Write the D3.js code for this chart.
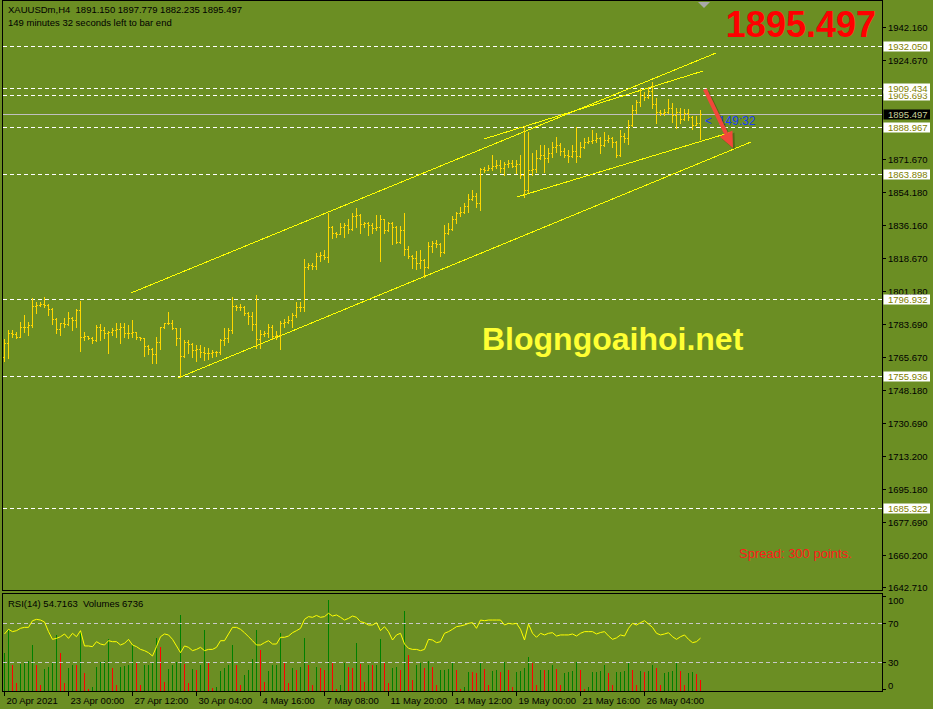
<!DOCTYPE html>
<html>
<head>
<meta charset="utf-8">
<title>XAUUSDm,H4</title>
<script src="https://cdn.jsdelivr.net/npm/d3@7"></script>
<style>
  body { margin: 0; background: #6b8e23; }
  svg text { font-family: "Liberation Sans", Arial, sans-serif; white-space: pre; }
</style>
</head>
<body>
<div id="chart"></div>
<script>
// H4 bars, 20 Apr 2021 08:00 -> 28 May 2021 12:00
const opens = [
 1766.0,1773.5,1778.5,1778.2,1776.7,1781.7,1782.0,1783.0,1793.1,1793.6,
 1794.2,1793.5,1791.3,1786.0,1780.7,1783.9,1783.3,1786.5,1785.6,1791.0,
 1776.4,1776.8,1776.2,1775.0,1782.1,1780.3,1778.9,1779.4,1780.3,1780.6,
 1782.1,1778.5,1778.9,1779.4,1776.7,1775.9,1771.8,1770.0,1767.5,1774.1,
 1781.7,1783.9,1784.2,1781.2,1775.9,1766.4,1774.1,1772.8,1769.6,1770.2,
 1768.7,1768.2,1767.8,1768.7,1768.4,1775.0,1775.9,1780.3,1793.1,1792.8,
 1792.5,1789.6,1787.5,1783.5,1775.3,1778.2,1778.5,1782.1,1777.1,1777.6,
 1784.2,1784.6,1785.6,1788.3,1792.4,1792.8,1813.8,1815.0,1814.5,1819.9,
 1820.3,1819.5,1835.2,1831.9,1831.6,1835.5,1836.4,1834.1,1841.2,1841.7,
 1836.9,1837.3,1836.4,1834.6,1835.5,1839.4,1833.7,1837.3,1835.5,1827.5,
 1833.7,1823.4,1819.9,1818.6,1816.3,1817.7,1814.1,1825.2,1826.6,1826.2,
 1822.2,1831.9,1834.1,1839.4,1842.6,1843.5,1846.5,1850.1,1852.0,1848.0,
 1866.5,1866.0,1867.0,1868.0,1868.3,1867.0,1869.0,1869.3,1868.0,1869.0,
 1863.0,1855.0,1866.0,1866.5,1872.0,1874.0,1872.0,1875.0,1878.0,1879.0,
 1876.0,1874.0,1873.0,1876.0,1873.0,1878.0,1881.0,1881.5,1882.0,1883.0,
 1879.0,1882.0,1883.0,1881.0,1874.0,1884.0,1883.0,1890.0,1898.0,1902.0,
 1906.0,1905.0,1908.0,1901.0,1897.0,1896.0,1897.0,1899.0,1895.0,1897.0,
 1893.0,1896.0,1894.0,1890.0,1891.15
];
const highs = [
 1775.3,1780.3,1780.3,1779.4,1784.7,1788.3,1784.7,1797.2,1795.4,1795.4,
 1797.7,1794.2,1791.9,1786.5,1784.2,1786.5,1789.7,1787.4,1791.3,1796.0,
 1779.4,1777.1,1776.7,1783.0,1783.5,1782.1,1779.9,1781.2,1783.9,1784.2,
 1783.9,1783.0,1785.6,1779.4,1776.7,1776.0,1772.3,1770.5,1776.4,1782.1,
 1784.2,1789.9,1785.6,1781.6,1781.2,1775.0,1775.0,1773.2,1772.3,1772.3,
 1771.4,1770.5,1769.6,1769.1,1775.3,1781.2,1781.2,1797.7,1793.7,1794.2,
 1793.1,1790.1,1790.1,1799.0,1780.3,1779.9,1783.5,1783.0,1779.9,1785.3,
 1786.0,1787.8,1789.6,1795.4,1795.4,1818.0,1816.3,1816.3,1821.6,1822.2,
 1823.1,1843.0,1835.9,1832.9,1837.3,1837.3,1839.4,1842.6,1845.3,1842.0,
 1838.2,1838.2,1837.6,1841.7,1841.7,1839.8,1838.2,1837.8,1836.0,1835.9,
 1843.0,1825.2,1820.4,1822.7,1823.1,1818.1,1827.5,1828.0,1828.4,1826.6,
 1836.4,1837.6,1841.2,1843.5,1845.8,1848.0,1853.0,1855.1,1853.4,1866.7,
 1867.6,1868.5,1873.8,1871.2,1871.2,1870.3,1871.2,1871.2,1871.2,1873.8,
 1889.3,1886.0,1874.7,1876.5,1879.2,1879.2,1877.4,1880.9,1883.6,1880.0,
 1877.4,1876.5,1879.2,1889.0,1880.9,1882.7,1883.6,1887.2,1885.8,1883.6,
 1886.3,1884.5,1883.6,1881.5,1887.2,1885.4,1892.5,1900.5,1903.2,1909.4,
 1907.7,1910.3,1913.0,1904.1,1897.9,1898.2,1903.6,1901.4,1898.7,1898.7,
 1898.2,1898.2,1894.7,1894.7,1897.779
];
const lows = [
 1763.7,1765.5,1776.7,1775.9,1776.4,1779.4,1777.6,1782.1,1789.2,1793.1,
 1792.8,1788.3,1783.3,1778.5,1777.6,1782.1,1783.0,1780.3,1782.1,1769.3,
 1775.0,1775.3,1773.5,1774.6,1775.0,1775.9,1768.2,1777.6,1776.7,1773.2,
 1776.4,1775.9,1776.7,1775.3,1775.0,1766.4,1767.5,1762.9,1762.9,1770.0,
 1781.5,1783.5,1780.8,1772.3,1755.4,1766.0,1768.2,1765.7,1763.9,1765.7,
 1764.3,1764.6,1766.1,1766.4,1767.5,1772.3,1774.1,1778.5,1791.0,1790.7,
 1788.4,1783.5,1780.3,1770.5,1770.5,1777.1,1776.4,1775.3,1775.3,1770.0,
 1782.1,1784.2,1781.7,1787.4,1790.6,1790.6,1812.7,1812.7,1812.7,1817.4,
 1818.1,1816.8,1829.3,1829.8,1831.6,1829.8,1831.9,1833.7,1835.5,1832.3,
 1835.5,1831.1,1832.0,1833.7,1817.4,1832.3,1833.2,1826.3,1826.6,1826.9,
 1820.4,1818.6,1813.3,1812.7,1813.3,1808.4,1813.6,1822.2,1824.8,1819.9,
 1821.6,1831.6,1833.6,1837.6,1841.2,1843.0,1843.5,1849.5,1846.2,1844.5,
 1864.9,1865.8,1865.8,1866.7,1864.9,1863.2,1867.6,1867.6,1864.0,1861.4,
 1851.6,1854.0,1863.2,1864.9,1871.5,1864.9,1870.3,1872.9,1875.6,1873.8,
 1872.9,1870.3,1872.9,1870.3,1872.5,1877.5,1880.0,1880.4,1880.9,1875.1,
 1878.5,1880.9,1877.9,1872.6,1873.5,1880.9,1879.7,1889.5,1896.4,1900.0,
 1903.2,1904.1,1898.7,1890.7,1895.2,1895.2,1896.1,1891.6,1888.1,1890.7,
 1892.5,1892.5,1887.5,1889.8,1882.235
];
const closes = [
 1773.5,1778.5,1778.2,1776.7,1781.7,1782.0,1783.0,1793.1,1793.6,1794.2,
 1793.5,1791.3,1786.0,1780.7,1783.9,1783.3,1786.5,1785.6,1791.0,1776.4,
 1776.8,1776.2,1775.0,1782.1,1780.3,1778.9,1779.4,1780.3,1780.6,1782.1,
 1778.5,1778.9,1779.4,1776.7,1775.9,1771.8,1770.0,1767.5,1774.1,1781.7,
 1783.9,1784.2,1781.2,1775.9,1766.4,1774.1,1772.8,1769.6,1770.2,1768.7,
 1768.2,1767.8,1768.7,1768.4,1775.0,1775.9,1780.3,1793.1,1792.8,1792.5,
 1789.6,1787.5,1783.5,1775.3,1778.2,1778.5,1782.1,1777.1,1777.6,1784.2,
 1784.6,1785.6,1788.3,1792.4,1792.8,1813.8,1815.0,1814.5,1819.9,1820.3,
 1819.5,1835.2,1831.9,1831.6,1835.5,1836.4,1834.1,1841.2,1841.7,1836.9,
 1837.3,1836.4,1834.6,1835.5,1839.4,1833.7,1837.3,1835.5,1827.5,1833.7,
 1823.4,1819.9,1818.6,1816.3,1817.7,1814.1,1825.2,1826.6,1826.2,1822.2,
 1831.9,1834.1,1839.4,1842.6,1843.5,1846.5,1850.1,1852.0,1848.0,1866.5,
 1866.0,1867.0,1868.0,1868.3,1867.0,1869.0,1869.3,1868.0,1869.0,1863.0,
 1855.0,1866.0,1866.5,1872.0,1874.0,1872.0,1875.0,1878.0,1879.0,1876.0,
 1874.0,1873.0,1876.0,1873.0,1878.0,1881.0,1881.5,1882.0,1883.0,1879.0,
 1882.0,1883.0,1881.0,1874.0,1884.0,1883.0,1890.0,1898.0,1902.0,1906.0,
 1905.0,1908.0,1901.0,1897.0,1896.0,1897.0,1899.0,1895.0,1897.0,1893.0,
 1896.0,1894.0,1890.0,1891.15,1895.497
];
const volumes = [
 22080,35520,14980,4800,15940,16900,17470,27070,15550,4030,
 13060,14400,16900,32830,22080,4800,13630,15550,14980,34370,
 10560,1340,2880,14400,16900,17470,30340,13630,4030,14400,
 14780,15550,27070,16320,4030,14980,15550,16900,30910,25920,
 5380,13060,14980,16900,43780,15940,4800,13060,12100,15550,
 35520,16900,1920,2880,11710,13630,15550,27070,14980,4030,
 9790,12480,18820,35520,24000,5380,11710,14980,15550,33600,
 16320,4800,13630,12100,14400,30910,14980,4030,14400,13630,
 12480,52420,16900,1340,4030,16320,14400,13630,27840,15940,
 5380,15550,14980,15550,30340,16320,4800,13630,14400,12480,
 46270,21310,6720,15550,16320,13630,17470,14400,4030,12100,
 12480,12860,16900,12100,1340,2880,11520,11140,10560,16320,
 13060,3460,11710,12100,11140,16900,12100,2880,11140,11710,
 13630,19780,16320,4030,12480,12100,12480,15550,13060,3460,
 10560,11140,11710,16900,12480,1340,2500,11140,11520,11710,
 14980,10560,3460,11140,11520,11900,16320,12100,4030,11710,
 11140,11710,15550,13440,3460,10560,11140,11710,16900,11710,
 3460,10560,11140,10180,6736
];
const rsi = [
 59.0,63.8,61.4,62.4,64.8,65.8,65.8,72.6,74.0,73.3,
 71.3,61.4,53.5,54.5,56.2,59.0,54.5,59.7,56.2,62.4,
 46.7,46.7,46.0,51.1,48.7,47.7,52.1,51.1,51.1,47.7,
 49.4,53.5,47.7,46.0,43.2,41.9,39.8,36.4,46.0,56.2,
 59.0,58.0,53.5,46.7,39.8,46.7,45.3,41.9,43.2,45.3,
 41.9,43.2,43.2,45.3,52.1,52.1,59.0,65.8,65.8,63.8,
 60.3,56.2,52.1,47.7,47.7,50.1,52.1,48.7,48.7,55.6,
 55.6,56.9,60.3,62.4,64.8,74.0,76.8,76.1,78.0,76.1,
 76.8,80.2,77.4,78.5,76.1,73.3,75.0,77.4,76.1,71.6,
 70.6,68.2,68.2,70.6,62.4,66.5,61.4,52.8,58.0,59.7,
 48.7,44.3,43.2,43.2,41.9,43.2,53.5,52.8,50.1,51.1,
 59.7,61.4,63.8,66.5,67.2,68.2,69.9,70.6,64.8,73.3,
 72.6,73.3,73.3,73.3,73.3,68.2,69.9,69.2,69.9,63.8,
 52.8,69.2,59.7,55.6,59.7,58.0,59.7,60.3,56.9,58.0,
 58.0,58.0,59.0,56.9,59.7,61.4,61.4,61.4,59.0,60.5,
 61.4,57.0,53.5,55.0,58.0,56.9,64.8,69.9,68.2,70.6,
 72.6,69.2,65.8,59.7,58.0,59.0,60.3,56.2,53.5,56.2,
 58.0,53.5,50.1,51.1,54.7163
];

// the 1907.180 / 1889.690 ticks sit under the level labels, so they are left out
const priceTicks = [1942.160,1924.670,1871.670,1854.180,1836.160,1818.670,
  1801.180,1783.690,1765.670,1748.180,1730.690,1713.200,1695.180,1677.690,1660.200,1642.710];
const levels = [1685.322,1755.936,1796.932,1863.898,1888.967,1905.693,1909.434,1932.050];
const rsiTicks = [100, 70, 30, 0];
const rsiLevels = [70, 30];
const timeTickBars = [0,16,32,48,64,80,96,112,128,144,160];
const timeLabels = ["20 Apr 2021","23 Apr 00:00","27 Apr 12:00","30 Apr 04:00","4 May 16:00",
  "7 May 08:00","11 May 20:00","14 May 12:00","19 May 00:00","21 May 16:00","26 May 04:00"];
// trendlines: [bar, price] -> [bar, price]
const trendlines = [
  [[31.75, 1800.05], [178, 1928.31]],
  [[43.5, 1754.63], [186.75, 1880.75]],
  [[120, 1882.35], [174.75, 1918.69]],
  [[128.25, 1851.36], [181.5, 1885.8]]
];
const arrowFrom = [175.25, 1908.9];
const arrowTo = [182.25, 1877.5];

const W = 933, H = 709;
const n = closes.length, last = n - 1;

const svg = d3.select("#chart").append("svg")
  .attr("width", W).attr("height", H)
  .style("display", "block")
  .style("background", "#6b8e23");

const x = d3.scaleLinear().domain([0, 220]).range([4, 884]);
const y = d3.scaleLinear().domain([1641, 1956.63]).range([590.6, 0]);
const yRsi = d3.scaleLinear().domain([0, 100]).range([691.5, 594]);
const yVol = d3.scaleLinear().domain([0, 56160]).range([691.5, 594]);
const px = i => Math.round(x(i));
const py = v => Math.round(y(v));

svg.append("defs").append("clipPath").attr("id", "main-clip")
  .append("rect").attr("x", 3).attr("y", 1).attr("width", 879).attr("height", 589);
svg.select("defs").append("clipPath").attr("id", "rsi-clip")
  .append("rect").attr("x", 3).attr("y", 594).attr("width", 879).attr("height", 97);

const main = svg.append("g").attr("clip-path", "url(#main-clip)");

// horizontal levels
main.append("g").selectAll("line").data(levels).join("line")
  .attr("x1", 3).attr("x2", 882)
  .attr("y1", d => py(d) + 0.5).attr("y2", d => py(d) + 0.5)
  .attr("stroke", "#fff").attr("stroke-dasharray", "4,3")
  .attr("shape-rendering", "crispEdges");

// bid line
main.append("line")
  .attr("x1", 3).attr("x2", 882)
  .attr("y1", py(closes[last]) + 0.5).attr("y2", py(closes[last]) + 0.5)
  .attr("stroke", "#c0c0c0").attr("shape-rendering", "crispEdges");

// trendlines
main.append("g").selectAll("line").data(trendlines).join("line")
  .attr("x1", d => x(d[0][0])).attr("y1", d => y(d[0][1]))
  .attr("x2", d => x(d[1][0])).attr("y2", d => y(d[1][1]))
  .attr("stroke", "#ffff00").attr("stroke-width", 1)
  .attr("shape-rendering", "crispEdges");

// OHLC bars
const bars = d3.range(n).map(i => ({i, o: opens[i], h: highs[i], l: lows[i], c: closes[i]}));
const gBars = main.append("g").attr("fill", "#ffd700").attr("shape-rendering", "crispEdges");
gBars.selectAll("rect.hl").data(bars).join("rect").attr("class", "hl")
  .attr("x", d => px(d.i)).attr("y", d => py(d.h))
  .attr("width", 1).attr("height", d => py(d.l) - py(d.h) + 1);
gBars.selectAll("rect.op").data(bars).join("rect").attr("class", "op")
  .attr("x", d => px(d.i) - 1).attr("y", d => py(d.o)).attr("width", 1).attr("height", 1);
gBars.selectAll("rect.cl").data(bars).join("rect").attr("class", "cl")
  .attr("x", d => px(d.i) + 1).attr("y", d => py(d.c)).attr("width", 1).attr("height", 1);

// watermark
main.append("text")
  .attr("x", 482).attr("y", 350)
  .attr("font-size", 32).attr("font-weight", "bold")
  .attr("fill", "#ffff33")
  .text("Blogngoaihoi.net");

main.append("text")
  .attr("x", 739).attr("y", 558)
  .attr("font-size", 13).attr("fill", "#ff1a1a")
  .text("Spread: 300 points.");

// timer
main.append("text")
  .attr("x", px(n) + 1).attr("y", py(closes[last]) + 11)
  .attr("font-size", 12).attr("fill", "#1a3cff")
  .text("<  149:32");

// red arrow
const ax1 = x(arrowFrom[0]), ay1 = y(arrowFrom[1]);
const ax2 = x(arrowTo[0]), ay2 = y(arrowTo[1]);
const len = Math.hypot(ax2 - ax1, ay2 - ay1);
const ux = (ax2 - ax1) / len, uy = (ay2 - ay1) / len;
const hb = [ax2 - ux * 16, ay2 - uy * 16];
const head = [[ax2, ay2], [hb[0] - uy * 7, hb[1] + ux * 7], [hb[0] + uy * 7, hb[1] - ux * 7]];
const arrow = main.append("g");
[["rgba(40,40,0,0.35)", 2], ["#f2473a", 0]].forEach(([col, off]) => {
  arrow.append("line")
    .attr("x1", ax1 + off).attr("y1", ay1 + off)
    .attr("x2", hb[0] + off).attr("y2", hb[1] + off)
    .attr("stroke", col).attr("stroke-width", 4);
  arrow.append("polygon")
    .attr("points", head.map(p => [p[0] + off, p[1] + off].join(",")).join(" "))
    .attr("fill", col);
});

// header
svg.append("text").attr("x", 8).attr("y", 13).attr("font-size", 9.5).attr("fill", "#000")
  .text(`XAUUSDm,H4  ${opens[last].toFixed(3)} ${highs[last].toFixed(3)} ${lows[last].toFixed(3)} ${closes[last].toFixed(3)}`);
svg.append("text").attr("x", 8).attr("y", 26).attr("font-size", 9.5).attr("fill", "#000")
  .text("149 minutes 32 seconds left to bar end");

svg.append("text")
  .attr("x", 876).attr("y", 37).attr("text-anchor", "end")
  .attr("font-size", 36).attr("font-weight", "bold").attr("fill", "#ff0000")
  .text(closes[last].toFixed(3));

// chart shift marker
const sx = px(n);
svg.append("polygon")
  .attr("points", `${sx - 6},2 ${sx + 6},2 ${sx},8`)
  .attr("fill", "#a9a9a9");

// RSI / volumes sub-window
const sub = svg.append("g").attr("clip-path", "url(#rsi-clip)");
sub.append("g").attr("shape-rendering", "crispEdges")
  .selectAll("rect").data(volumes).join("rect")
  .attr("x", (d, i) => px(i)).attr("width", 1)
  .attr("y", d => Math.round(yVol(d)))
  .attr("height", d => 691 - Math.round(yVol(d)))
  .attr("fill", (d, i) => i === 0 || d > volumes[i - 1] ? "#008000" : "#ff0000");

sub.append("g").selectAll("line").data(rsiLevels).join("line")
  .attr("x1", 3).attr("x2", 882)
  .attr("y1", d => Math.round(yRsi(d)) + 0.5).attr("y2", d => Math.round(yRsi(d)) + 0.5)
  .attr("stroke", "#c8c8c8").attr("stroke-dasharray", "4,3")
  .attr("shape-rendering", "crispEdges");

sub.append("path")
  .datum(rsi)
  .attr("fill", "none").attr("stroke", "#ffff00").attr("stroke-width", 1)
  .attr("d", d3.line().x((d, i) => px(i) + 0.5).y(d => yRsi(d)));

svg.append("text").attr("x", 8).attr("y", 606.5).attr("font-size", 9.5).attr("fill", "#000")
  .text(`RSI(14) ${rsi[last].toFixed(4)}  Volumes ${volumes[last]}`);

// frames
const frames = svg.append("g").attr("fill", "none").attr("stroke", "#000").attr("shape-rendering", "crispEdges");
frames.append("rect").attr("x", 2.5).attr("y", 0.5).attr("width", 880).attr("height", 590);
frames.append("rect").attr("x", 2.5).attr("y", 593.5).attr("width", 880).attr("height", 98);

// price axis
const axis = svg.append("g").attr("font-size", 9.5);
axis.selectAll("line.tk").data(priceTicks).join("line").attr("class", "tk")
  .attr("x1", 883).attr("x2", 886)
  .attr("y1", d => py(d) + 0.5).attr("y2", d => py(d) + 0.5)
  .attr("stroke", "#000").attr("shape-rendering", "crispEdges");
axis.selectAll("text.tk").data(priceTicks).join("text").attr("class", "tk")
  .attr("x", 888).attr("y", d => py(d) + 3.5).attr("fill", "#000")
  .text(d => d.toFixed(3));

const lvl = axis.selectAll("g.lvl").data(levels).join("g").attr("class", "lvl");
lvl.append("rect")
  .attr("x", 883.5).attr("y", d => py(d) - 4.5).attr("width", 46.5).attr("height", 10)
  .attr("fill", "#fff");
lvl.append("text")
  .attr("x", 888).attr("y", d => py(d) + 3.5).attr("fill", "#808000")
  .text(d => d.toFixed(3));

axis.append("rect")
  .attr("x", 883.5).attr("y", py(closes[last]) - 4.5).attr("width", 46.5).attr("height", 10)
  .attr("fill", "#000");
axis.append("text")
  .attr("x", 888).attr("y", py(closes[last]) + 3.5).attr("fill", "#c8d098")
  .text(closes[last].toFixed(3));

// rsi axis
axis.selectAll("line.rt").data(rsiTicks).join("line").attr("class", "rt")
  .attr("x1", 883).attr("x2", 886)
  .attr("y1", d => Math.min(Math.max(Math.round(yRsi(d)), 596), 689) + 0.5)
  .attr("y2", d => Math.min(Math.max(Math.round(yRsi(d)), 596), 689) + 0.5)
  .attr("stroke", "#000").attr("shape-rendering", "crispEdges");
axis.selectAll("text.rt").data(rsiTicks).join("text").attr("class", "rt")
  .attr("x", 888).attr("y", d => Math.min(Math.max(yRsi(d) + 3.5, 604), 688.5))
  .attr("fill", "#000").text(d => d);

// time axis
const tAxis = svg.append("g").attr("font-size", 9.5);
tAxis.selectAll("line").data(timeTickBars).join("line")
  .attr("x1", d => px(d) + 0.5).attr("x2", d => px(d) + 0.5)
  .attr("y1", 692).attr("y2", 696)
  .attr("stroke", "#000").attr("shape-rendering", "crispEdges");
tAxis.selectAll("text").data(timeTickBars).join("text")
  .attr("x", d => px(d) + 2.5).attr("y", 703.5).attr("fill", "#000")
  .text((d, i) => timeLabels[i]);
</script>
</body>
</html>
